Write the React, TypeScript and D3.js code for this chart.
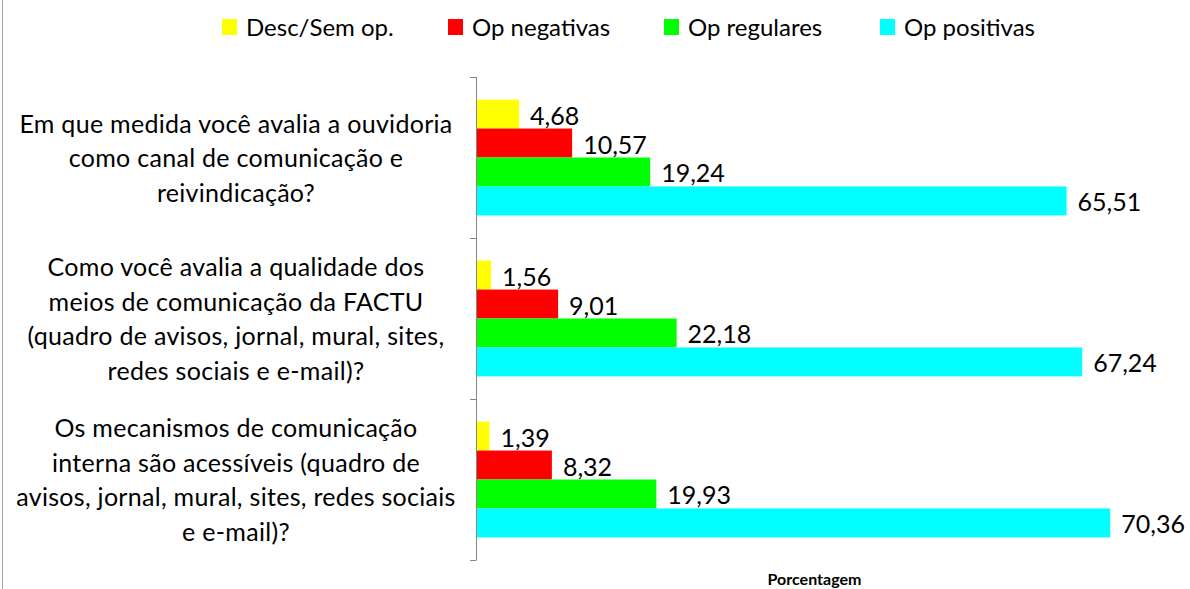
import React, { useEffect, useRef } from "react";
import * as d3 from "d3";

// questions (one line per array entry)
const questions = [
  ["Em que medida você avalia a ouvidoria", "como canal de comunicação e", "reivindicação?"],
  ["Como você avalia a qualidade dos", "meios de comunicação da FACTU", "(quadro de avisos, jornal, mural, sites,", "redes sociais e e-mail)?"],
  ["Os mecanismos de comunicação", "interna são acessíveis (quadro de", "avisos, jornal, mural, sites, redes sociais", "e e-mail)?"],
];
const seriesNames = ["Desc/Sem op.", "Op negativas", "Op regulares", "Op positivas"];
const descSemOp = [4.68, 1.56, 1.39];
const opNegativas = [10.57, 9.01, 8.32];
const opRegulares = [19.24, 22.18, 19.93];
const opPositivas = [65.51, 67.24, 70.36];
const colors = ["#ffff00", "#ff0000", "#00ff00", "#00ffff"];

const W = 1190;
const H = 589;
const FONT = "Lato, 'Open Sans', sans-serif";

export default function App() {
  const ref = useRef<SVGSVGElement>(null);

  useEffect(() => {
    const svg = d3.select(ref.current);
    svg.selectAll("*").remove();

    const values = [descSemOp, opNegativas, opRegulares, opPositivas];
    const ids = questions.map((_, i) => i);

    const x = d3.scaleLinear().domain([0, 75]).range([477, 1152]);
    const y = d3.scaleBand<number>().domain(ids).range([77, 560]).paddingInner(0);
    const y1 = d3.scaleBand<number>()
      .domain(seriesNames.map((_, i) => i))
      .range([0, y.bandwidth()])
      .paddingInner(0)
      .paddingOuter(0.78);

    // outer frame line on the left
    svg.append("line")
      .attr("x1", 2.5).attr("x2", 2.5)
      .attr("y1", 0).attr("y2", H)
      .attr("stroke", "#a6a6a6").attr("stroke-width", 1);

    // bars
    ids.forEach((ci) => {
      const g = svg.append("g").attr("transform", `translate(0,${y(ci)})`);
      values.forEach((vals, si) => {
        const v = vals[ci];
        const yy = y1(si) as number;
        g.append("rect")
          .attr("x", x(0))
          .attr("y", yy)
          .attr("width", x(v) - x(0))
          .attr("height", y1.bandwidth())
          .attr("fill", colors[si]);
        g.append("text")
          .attr("x", x(v) + 11)
          .attr("y", yy + y1.bandwidth() / 2 + 10.5)
          .attr("font-family", FONT)
          .attr("font-size", 25)
          .attr("fill", "#000")
          .text(d3.format(".2f")(v).replace(".", ","));
      });
    });

    // vertical axis
    const axis = svg.append("g").attr("stroke", "#868686").attr("stroke-width", 1);
    axis.append("line")
      .attr("x1", x(0) - 0.5).attr("x2", x(0) - 0.5)
      .attr("y1", y.range()[0]).attr("y2", y.range()[1]);
    const bounds = ids.map((i) => y(i) as number).concat([y.range()[1]]);
    bounds.forEach((b) => {
      axis.append("line")
        .attr("x1", x(0) - 7).attr("x2", x(0) - 0.5)
        .attr("y1", Math.round(b) + 0.5).attr("y2", Math.round(b) + 0.5);
    });

    // category labels
    ids.forEach((ci) => {
      const lines = questions[ci];
      const cy = (y(ci) as number) + y.bandwidth() / 2 + 9.5;
      const t = svg.append("text")
        .attr("text-anchor", "middle")
        .attr("font-family", FONT)
        .attr("font-size", 25)
        .attr("letter-spacing", 0.3)
        .attr("fill", "#000");
      lines.forEach((ln, li) => {
        t.append("tspan")
          .attr("x", 236)
          .attr("y", cy + (li - (lines.length - 1) / 2) * 34.5)
          .text(ln);
      });
    });

    // legend
    const legendX = [222, 448, 664, 880];
    seriesNames.forEach((name, i) => {
      svg.append("rect")
        .attr("x", legendX[i]).attr("y", 19)
        .attr("width", 15).attr("height", 16)
        .attr("fill", colors[i]);
      svg.append("text")
        .attr("x", legendX[i] + 24).attr("y", 35.5)
        .attr("font-family", FONT)
        .attr("font-size", 24)
        .attr("fill", "#000")
        .text(name);
    });

    // axis title
    svg.append("text")
      .attr("x", (x.range()[0] + x.range()[1]) / 2)
      .attr("y", 585)
      .attr("text-anchor", "middle")
      .attr("font-family", FONT)
      .attr("font-weight", "bold")
      .attr("font-size", 16)
      .attr("fill", "#000")
      .text("Porcentagem");
  }, []);

  return (
    <svg
      ref={ref}
      width={W}
      height={H}
      style={{ position: "absolute", left: 0, top: 0, background: "#fff" }}
    />
  );
}
